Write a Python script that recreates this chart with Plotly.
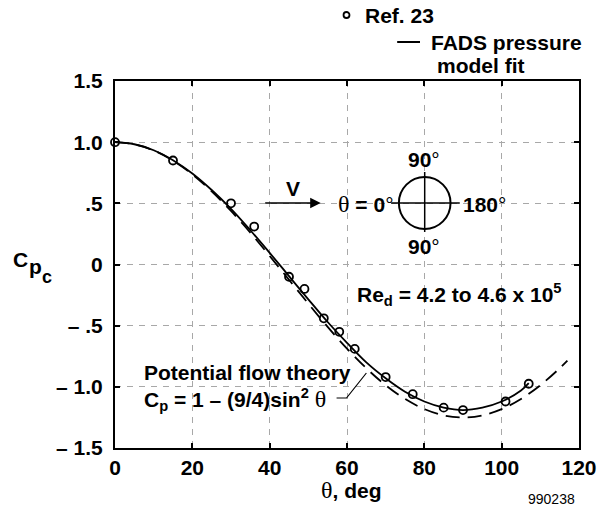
import plotly.graph_objects as go

# ---- data ----
theta_ref = [0, 15, 30, 36, 45, 49, 54, 58, 62, 70, 77, 85, 90, 101, 107]
cp_ref = [1.0, 0.85, 0.50, 0.31, -0.10, -0.20, -0.44, -0.55, -0.69, -0.92,
          -1.06, -1.17, -1.19, -1.12, -0.975]

theta_fit = [0, 5, 10, 15, 20, 25, 30, 35, 40, 45, 50, 55, 60, 65, 70, 75,
             80, 85, 90, 95, 100, 105, 107]
cp_fit = [1.0, 0.983, 0.934, 0.853, 0.744, 0.609, 0.455, 0.28, 0.095, -0.095,
          -0.285, -0.47, -0.64, -0.80, -0.93, -1.04, -1.12, -1.17, -1.19,
          -1.17, -1.12, -1.03, -0.97]

theta_pot = [0, 5, 10, 15, 20, 25, 30, 35, 40, 45, 50, 55, 60, 65, 70, 75,
             80, 85, 90, 95, 100, 105, 110, 115, 117]
cp_pot = [1.0, 0.983, 0.932, 0.849, 0.737, 0.598, 0.4375, 0.26, 0.07, -0.125,
          -0.32, -0.51, -0.6875, -0.848, -0.987, -1.099, -1.182, -1.233, -1.25,
          -1.233, -1.182, -1.099, -0.987, -0.848, -0.786]

x_ticks = [0, 20, 40, 60, 80, 100, 120]
y_ticks = [1.5, 1.0, 0.5, 0, -0.5, -1.0, -1.5]
y_tick_text = ["1.5", "1.0", ".5", "0", "\u2013 .5", "\u2013 1.0", "\u2013 1.5"]

# ---- layout geometry ----
W, H = 609, 514
ML, MR, MT, MB = 115, 27, 81, 66
PW, PH = W - ML - MR, H - MT - MB
FONT = "Liberation Sans"
FS = 21


def px(x):
    return (x - ML) / PW


def py(y):
    return (H - MB - y) / PH


fig = go.Figure()

fig.add_trace(go.Scatter(
    x=theta_pot, y=cp_pot, mode="lines", line_shape="spline",
    line=dict(color="black", width=1.8, dash="14px,8px"),
    showlegend=False, hoverinfo="skip"))

fig.add_trace(go.Scatter(
    x=theta_fit, y=cp_fit, mode="lines", line_shape="spline",
    line=dict(color="black", width=1.8),
    showlegend=False, hoverinfo="skip"))

fig.add_trace(go.Scatter(
    x=theta_ref, y=cp_ref, mode="markers",
    marker=dict(symbol="circle-open", size=8, color="black",
                line=dict(width=1.8, color="black")),
    cliponaxis=False, showlegend=False, hoverinfo="skip"))

axis_common = dict(
    showline=True, linecolor="black", linewidth=2, mirror="ticks",
    ticks="inside", ticklen=5, tickwidth=2, tickcolor="black",
    showgrid=True, gridcolor="#a8a8a8", gridwidth=1, griddash="6px,6px",
    zeroline=False,
    tickfont=dict(family=FONT, size=FS, color="black", weight="bold"),
)

fig.update_xaxes(range=[0, 120], tickvals=x_ticks, ticktext=[str(v) for v in x_ticks],
                 ticklabelstandoff=0, **axis_common)
fig.update_yaxes(range=[-1.5, 1.5], tickvals=y_ticks, ticktext=y_tick_text,
                 ticklabelstandoff=6, **axis_common)

ann = []


def text(x, y, s, size=FS, xanchor="center", weight="bold", family=FONT):
    ann.append(dict(x=px(x), y=py(y), xref="paper", yref="paper", text=s,
                    showarrow=False, xanchor=xanchor, yanchor="middle",
                    font=dict(family=family, size=size, color="black", weight=weight)))


theta = ("<span style='font-family:Liberation Serif;font-weight:normal;"
         "font-size:24px'>\u03b8</span>")
deg = "<span style='font-weight:normal'>\u00b0</span>"

# legend
text(365, 15, "Ref. 23", xanchor="left")
text(431, 42, "FADS pressure", xanchor="left")
text(437, 66, "model fit", xanchor="left")

# axis titles
text(20, 259, "C")
text(35, 266, "p")
text(46.5, 277, "c", size=18)
text(353, 490, theta + ", deg")

# diagram
text(294, 188, "V")
text(337, 204, theta + " = 0" + deg, xanchor="left")
text(426, 159, "90" + deg)
text(426, 246, "90" + deg)
text(463, 204, "180" + deg, xanchor="left")

# Reynolds number
text(357, 294, "Re<sub>d</sub> = 4.2 to 4.6 x 10<sup>5</sup>", xanchor="left")

# potential-flow label
text(142, 372, "Potential flow theory", xanchor="left")
text(142, 399, "C<sub>p</sub> = 1 \u2013 (9/4)sin<sup>2</sup> " + theta, xanchor="left")

# figure number
text(554, 499, "990238", size=14, weight="normal")

# velocity arrow
ann.append(dict(x=px(322), y=py(203), ax=-57, ay=0,
                xref="paper", yref="paper", axref="pixel", ayref="pixel",
                showarrow=True, arrowhead=2, arrowsize=1.4, arrowwidth=1.5,
                arrowcolor="black", text=""))

shapes = []
# cylinder sketch
cx, cy, r = 426.7, 203, 26
shapes.append(dict(type="circle", xref="paper", yref="paper",
                   x0=px(cx - r), x1=px(cx + r), y0=py(cy + r), y1=py(cy - r),
                   line=dict(color="black", width=2)))
shapes.append(dict(type="line", xref="paper", yref="paper",
                   x0=px(393), x1=px(462), y0=py(cy), y1=py(cy),
                   line=dict(color="black", width=1.5)))
shapes.append(dict(type="line", xref="paper", yref="paper",
                   x0=px(cx), x1=px(cx), y0=py(172), y1=py(232),
                   line=dict(color="black", width=1.5)))
# legend line sample and circle
shapes.append(dict(type="line", xref="paper", yref="paper",
                   x0=px(399), x1=px(422), y0=py(42), y1=py(42),
                   line=dict(color="black", width=2)))
shapes.append(dict(type="circle", xref="paper", yref="paper",
                   x0=px(345), x1=px(351), y0=py(18), y1=py(12),
                   line=dict(color="black", width=1.8)))
# leader line for potential flow label
shapes.append(dict(type="path", xref="paper", yref="paper",
                   path="M {} {} L {} {} L {} {}".format(
                       px(338), py(398), px(348), py(398), px(368), py(373)),
                   line=dict(color="black", width=1.2)))

fig.update_layout(
    width=W, height=H,
    margin=dict(l=ML, r=MR, t=MT, b=MB, pad=0),
    paper_bgcolor="white", plot_bgcolor="white",
    font=dict(family=FONT, size=FS, color="black"),
    annotations=ann, shapes=shapes, showlegend=False,
)

fig.write_html("out.html", config={"displayModeBar": False})
